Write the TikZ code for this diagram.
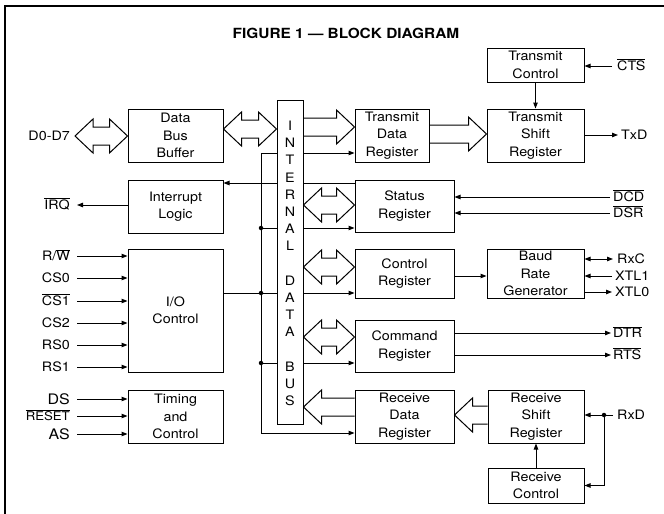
\documentclass[tikz,border=0pt]{standalone}
\usepackage{fontspec}
\setmainfont[FakeStretch=1.1]{TeX Gyre Heros}
\usetikzlibrary{arrows.meta,calc}
\newcommand\ovl[1]{$\overline{\mbox{#1}}$}
% fat outline arrows: #1 tail/left point, #2 tip/right point, #3 y (px)
\newcommand\fatR[3]{%
  \coordinate (fA) at (#1 |- 0,#3);
  \coordinate (fB) at (#2 |- 0,#3);
  \draw[fat] ([yshift=9pt]fA) -- ([xshift=-18pt,yshift=9pt]fB) -- ([xshift=-18pt,yshift=17pt]fB) -- (fB)
    -- ([xshift=-18pt,yshift=-17pt]fB) -- ([xshift=-18pt,yshift=-9pt]fB) -- ([yshift=-9pt]fA);}
\newcommand\fatL[3]{%
  \coordinate (fA) at (#1 |- 0,#3);
  \coordinate (fB) at (#2 |- 0,#3);
  \draw[fat] ([yshift=9pt]fA) -- ([xshift=18pt,yshift=9pt]fB) -- ([xshift=18pt,yshift=17pt]fB) -- (fB)
    -- ([xshift=18pt,yshift=-17pt]fB) -- ([xshift=18pt,yshift=-9pt]fB) -- ([yshift=-9pt]fA);}
\newcommand\fatD[3]{%
  \coordinate (fA) at (#1 |- 0,#3);
  \coordinate (fB) at (#2 |- 0,#3);
  \draw[fat] (fA) -- ([xshift=18pt,yshift=17pt]fA) -- ([xshift=18pt,yshift=9pt]fA) -- ([xshift=-18pt,yshift=9pt]fB)
    -- ([xshift=-18pt,yshift=17pt]fB) -- (fB) -- ([xshift=-18pt,yshift=-17pt]fB) -- ([xshift=-18pt,yshift=-9pt]fB)
    -- ([xshift=18pt,yshift=-9pt]fA) -- ([xshift=18pt,yshift=-17pt]fA) -- cycle;}
\begin{document}
\begin{tikzpicture}[x=1pt,y=-1pt,
  every node/.style={font=\fontsize{13}{17.5}\selectfont},
  box/.style={draw, line width=1pt, inner sep=0pt, align=center},
  lbl/.style={inner sep=0pt, text height=9.3pt, text depth=0pt},
  arr/.style={line width=1pt, -{Triangle[length=6pt,width=4.5pt]}},
  darr/.style={line width=1pt, {Triangle[length=6pt,width=4.5pt]}-{Triangle[length=6pt,width=4.5pt]}},
  ln/.style={line width=1pt},
  fat/.style={line width=1pt, line join=miter},
  dot/.style={circle, fill, inner sep=0pt, minimum size=4.5pt}]
\useasboundingbox (0,0) rectangle (664,514);
% frame
\draw[line width=2pt] (664,6) -- (5,6) -- (5,514);
\node[font=\fontsize{14}{14}\bfseries\selectfont] (title) at (346,33) {FIGURE 1 — BLOCK DIAGRAM};
% boxes
\node[box, minimum width=97pt, minimum height=34pt] (tc) at (535.5,65) {Transmit\\Control};
\node[box, minimum width=95pt, minimum height=53pt] (dbb) at (175.5,135.5) {Data\\Bus\\Buffer};
\node[box, minimum width=26pt, minimum height=324pt] (bus) at (290,262) {};
\node[box, minimum width=74pt, minimum height=53pt] (tdr) at (392,135.5) {Transmit\\Data\\Register};
\node[box, minimum width=97pt, minimum height=53pt] (tsr) at (535.5,135.5) {Transmit\\Shift\\Register};
\node[box, minimum width=95pt, minimum height=53pt] (il) at (175.5,206.5) {Interrupt\\Logic};
\node[box, minimum width=99pt, minimum height=52pt] (sr) at (404.5,206) {Status\\Register};
\node[box, minimum width=95pt, minimum height=123pt] (io) at (175.5,310.5) {I/O\\Control};
\node[box, minimum width=99pt, minimum height=49pt] (cr) at (404.5,273.5) {Control\\Register};
\node[box, minimum width=97pt, minimum height=49pt] (brg) at (535.5,273.5) {Baud\\Rate\\Generator};
\node[box, minimum width=99pt, minimum height=52pt] (cmd) at (404.5,346) {Command\\Register};
\node[box, minimum width=95pt, minimum height=53pt] (tmc) at (175.5,416.5) {Timing\\and\\Control};
\node[box, minimum width=99pt, minimum height=53pt] (rdr) at (404.5,416.5) {Receive\\Data\\Register};
\node[box, minimum width=96pt, minimum height=53pt] (rsr) at (536,416.5) {Receive\\Shift\\Register};
\node[box, minimum width=96pt, minimum height=35pt] (rc) at (536,485.5) {Receive\\Control};
% bus lettering
\foreach \c/\yy [count=\i] in {I/126,N/143,T/160,E/178,R/195,N/212,A/229,L/246,D/281,A/298,T/315,A/332,B/367,U/384,S/401}
  \node[lbl] (busl\i) at (290,\yy) {\c};
% left labels
\node[lbl, anchor=east] (d07) at (70,136) {D0-D7};
\node[lbl, anchor=east] (irq) at (70,205) {\ovl{IRQ}};
\node[lbl, anchor=east] (rw) at (70,256) {R/\ovl{W}};
\node[lbl, anchor=east] (cs0) at (70,278) {CS0};
\node[lbl, anchor=east] (cs1) at (70,301) {\ovl{CS1}};
\node[lbl, anchor=east] (cs2) at (70,323) {CS2};
\node[lbl, anchor=east] (rs0) at (70,345) {RS0};
\node[lbl, anchor=east] (rs1) at (70,367) {RS1};
\node[lbl, anchor=east, font=\fontsize{14.5}{14.5}\selectfont, text height=10.4pt] (ds) at (70,399) {DS};
\node[lbl, anchor=east, font=\fontsize{12}{12}\selectfont, text height=8.6pt] (rst) at (70,416) {\ovl{RESET}};
\node[lbl, anchor=east, font=\fontsize{14.5}{14.5}\selectfont, text height=10.4pt] (as) at (70,434) {AS};
% right labels
\node[lbl, anchor=west] (cts) at (617,66) {\ovl{CTS}};
\node[lbl, anchor=west] (txd) at (621,135) {TxD};
\node[lbl, anchor=west] (dcd) at (613,197) {\ovl{DCD}};
\node[lbl, anchor=west] (dsr) at (613,213) {\ovl{DSR}};
\node[lbl, anchor=west] (rxc) at (617,259) {RxC};
\node[lbl, anchor=west] (xtl1) at (615,276) {XTL1};
\node[lbl, anchor=west] (xtl0) at (615,292) {XTL0};
\node[lbl, anchor=west] (dtr) at (613,333) {\ovl{DTR}};
\node[lbl, anchor=west] (rts) at (613,355) {\ovl{RTS}};
\node[lbl, anchor=west] (rxd) at (617,415) {RxD};
% fat arrows
\coordinate (d07t) at ([xshift=5pt]d07.east);
\fatD{d07t}{dbb.west}{136}
\fatD{dbb.east}{bus.west}{129}
\fatR{bus.east}{tdr.west}{127}
\fatR{tdr.east}{tsr.west}{134}
\fatD{bus.east}{sr.west}{205}
\fatD{bus.east}{cr.west}{267}
\fatD{bus.east}{cmd.west}{337}
\fatL{rdr.west}{bus.east}{407}
\fatL{rsr.west}{rdr.east}{415}
% internal control lines
\coordinate (cbt) at (261,153);
\coordinate (cbb) at (261,433);
\node[dot] (j1) at (261,228) {};
\node[dot] (j2) at (261,293) {};
\node[dot] (j3) at (261,363) {};
\draw[arr] (bus.west |- cbt) -- (cbt) -- (cbb) -- (cbb -| rdr.west);
\draw[ln] (j1) -- (j1 -| bus.west);
\draw[ln] (io.east |- j2) -- (j2 -| bus.west);
\draw[ln] (j3) -- (j3 -| bus.west);
\draw[arr] (bus.east |- cbt) -- (cbt -| tdr.west);
\draw[arr] (bus.east |- j1) -- (j1 -| sr.west);
\draw[arr] (bus.east |- j2) -- (j2 -| cr.west);
\draw[arr] (bus.east |- j3) -- (j3 -| cmd.west);
\coordinate (irl) at (290,183);
\draw[ln] (sr.west |- irl) -- (bus.east |- irl);
\draw[arr] (bus.west |- irl) -- (irl -| il.east);
% left connectors
\draw[arr] (il.west |- irq.east) -- ([xshift=7pt]irq.east);
\foreach \n in {rw,cs0,cs1,cs2,rs0,rs1}
  \draw[arr] ([xshift=7pt]\n.east) -- (\n.east -| io.west);
\foreach \n in {ds,rst,as}
  \draw[arr] ([xshift=7pt]\n.east) -- (\n.east -| tmc.west);
% right connectors
\draw[arr] ([xshift=-5pt]cts.west) -- (cts.west -| tc.east);
\draw[arr] (tc.south) -- (tsr.north);
\draw[arr] (tsr.east |- txd.west) -- ([xshift=-3pt]txd.west);
\draw[arr] ([xshift=-3pt]dcd.west) -- (dcd.west -| sr.east);
\draw[arr] ([xshift=-3pt]dsr.west) -- (dsr.west -| sr.east);
\draw[arr] (cr.east |- 0,276) -- (brg.west |- 0,276);
\draw[darr] (brg.east |- rxc.west) -- ([xshift=-4pt]rxc.west);
\draw[arr] ([xshift=-3pt]xtl1.west) -- (xtl1.west -| brg.east);
\draw[arr] (brg.east |- xtl0.west) -- ([xshift=-3pt]xtl0.west);
\draw[arr] (cmd.east |- dtr.west) -- ([xshift=-2pt]dtr.west);
\draw[arr] (cmd.east |- rts.west) -- ([xshift=-2pt]rts.west);
\node[dot] (rxdj) at (604,415) {};
\draw[ln] ([xshift=-4pt]rxd.west) -- (rxdj);
\draw[arr] (rxdj) -- (rxdj -| rsr.east);
\draw[arr] (rxdj) |- (rc.east);
\draw[arr] (rc.north) -- (rsr.south);
\end{tikzpicture}
\end{document}
